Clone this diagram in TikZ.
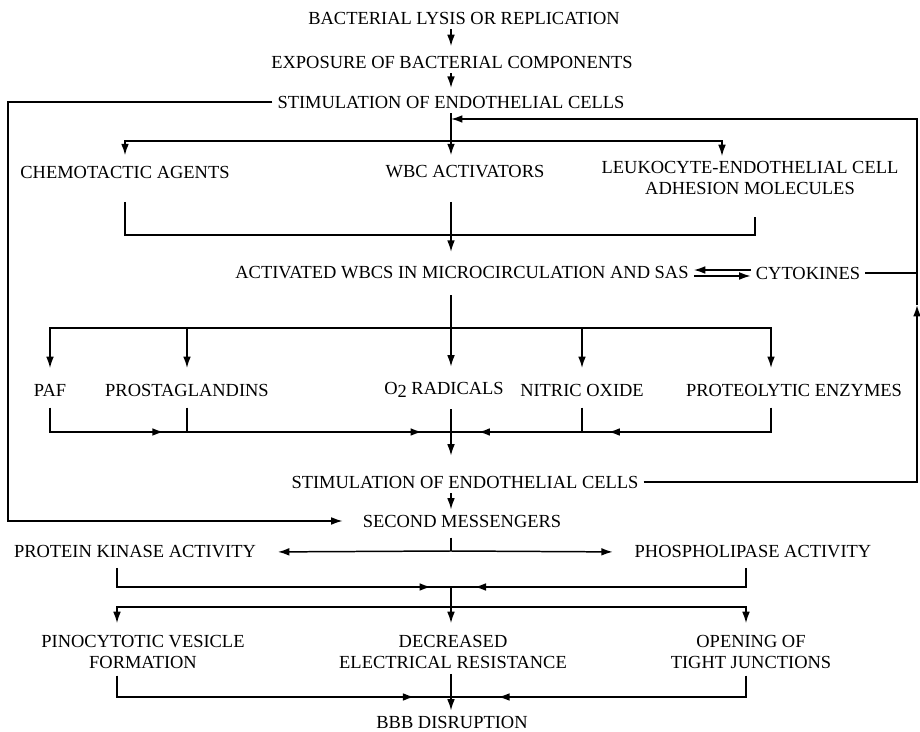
\documentclass[tikz,border=0pt]{standalone}
\usepackage{fontspec}
\setmainfont{Liberation Serif}
\usetikzlibrary{arrows.meta, calc}

\begin{document}
\begin{tikzpicture}[x=0.02cm, y=-0.02cm, line width=0.85pt,
      lbl/.style={font=\fontsize{10.5}{11.8}\selectfont, inner sep=0pt,
                  outer sep=3pt, align=center},
      arr/.style={-{Latex[length=6.5pt,width=4.4pt]}}]
    \useasboundingbox (0,0) rectangle (920,732);
    % text nodes
    \node[lbl] (lysis)  at (464,18)    {BACTERIAL LYSIS OR REPLICATION};
    \node[lbl] (expo)   at (452,62)    {EXPOSURE OF BACTERIAL COMPONENTS};
    \node[lbl] (stimA)  at (451,102)   {STIMULATION OF ENDOTHELIAL CELLS};
    \node[lbl] (chemo)  at (125,172)   {CHEMOTACTIC AGENTS};
    \node[lbl] (wbc)    at (465,172)   {WBC ACTIVATORS};
    \node[lbl] (leuko)  at (750,178)   {LEUKOCYTE-ENDOTHELIAL CELL\\ADHESION MOLECULES};
    \node[lbl] (act)    at (462,273)   {ACTIVATED WBCS IN MICROCIRCULATION AND SAS};
    \node[lbl] (cyto)   at (808,273)   {CYTOKINES};
    \node[lbl] (paf)    at (50,390)    {PAF};
    \node[lbl] (prost)  at (187,390)   {PROSTAGLANDINS};
    \node[lbl] (otwo)   at (444,390)   {O\raisebox{-0.35ex}{2} RADICALS};
    \node[lbl] (nitric) at (582,390)   {NITRIC OXIDE};
    \node[lbl] (proteo) at (794,390)   {PROTEOLYTIC ENZYMES};
    \node[lbl] (stimB)  at (465,482)   {STIMULATION OF ENDOTHELIAL CELLS};
    \node[lbl] (sm)     at (462,521)   {SECOND MESSENGERS};
    \node[lbl] (pk)     at (135,552)   {PROTEIN KINASE ACTIVITY};
    \node[lbl] (pl)     at (753,552)   {PHOSPHOLIPASE ACTIVITY};
    \node[lbl] (pino)   at (143,652)   {PINOCYTOTIC VESICLE\\FORMATION};
    \node[lbl] (dec)    at (453,652)   {DECREASED\\ELECTRICAL RESISTANCE};
    \node[lbl] (tight)  at (751,652)   {OPENING OF\\TIGHT JUNCTIONS};
    \node[lbl] (bbb)    at (452,722)   {BBB DISRUPTION};
    % junctions
    \coordinate (spine) at (451,0);
    \coordinate (lkIn)  at (722,0);
    \coordinate (lkOut) at (755,0);
    \coordinate (ptx)   at (771,0);
    \coordinate (pkx)   at (117,0);
    \coordinate (plx)   at (746,0);
    \coordinate (lcA)   at (8,102);
    \coordinate (rcTop) at (917,119);
    \coordinate (rcArr) at (917,305);
    \coordinate (brA)   at (451,141);
    \coordinate (mgA)   at (451,235);
    \coordinate (brB)   at (451,328);
    \coordinate (mgB)   at (451,432);
    \coordinate (smJ)   at (451,551);
    \coordinate (mgC)   at (451,587);
    \coordinate (brC)   at (451,607);
    \coordinate (mgD)   at (451,697);
    % top chain
    \draw[arr, shorten >=2.5pt] (lysis.south -| spine) -- (expo.north -| spine);
    \draw[arr, shorten >=1.5pt] (expo.south -| spine) -- (stimA.north -| spine);
    \draw[arr, shorten >=3pt] (stimA.south -| spine) -- (wbc.north -| spine);
    \draw[arr] (rcArr) -- (rcTop) -- (spine |- rcTop);
    \draw[arr, shorten >=3pt] (brA) -| (chemo.north);
    \draw[arr] (brA) -| (lkIn |- leuko.north);
    % long loop on the left
    \draw[arr, shorten >=8.5pt] (stimA.west) -- (lcA) |- (sm.west);
    % into activated wbcs
    \draw[shorten <=10.5pt] (chemo.south) |- (mgA);
    \draw[shorten <=10pt] (lkOut |- leuko.south) |- (mgA);
    \draw[arr, shorten <=10.5pt, shorten >=5.5pt] (wbc.south -| spine) -- (act.north -| spine);
    \draw[arr] ([yshift=1.7pt]cyto.west) -- ([yshift=1.7pt]act.east);
    \draw[arr] ([yshift=-1.7pt]act.east) -- ([yshift=-1.7pt]cyto.west);
    \draw (cyto.east) -- (cyto.east -| rcTop);
    % mediators
    \draw[arr, shorten <=6pt, shorten >=6pt] (act.south -| spine) -- (otwo.north -| spine);
    \draw[arr, shorten >=6pt] (brB) -| (paf.north);
    \draw[arr, shorten >=6pt] (brB) -| (ptx |- proteo.north);
    \draw[arr, shorten >=6pt] (prost.north |- brB) -- (prost.north);
    \draw[arr, shorten >=6pt] (nitric.north |- brB) -- (nitric.north);
    \draw[shorten <=3.5pt] (paf.south) |- (mgB);
    \draw[shorten <=3.5pt] (prost.south) -- (prost.south |- mgB);
    \draw[shorten <=3.5pt] (nitric.south) -- (nitric.south |- mgB);
    \draw[shorten <=3.5pt] (ptx |- proteo.south) |- (mgB);
    \draw[arr] (paf.south |- mgB) -- ($(paf.south |- mgB)!0.83!(prost.south |- mgB)$);
    \draw[arr] (prost.south |- mgB) -- ($(prost.south |- mgB)!0.89!(mgB)$);
    \draw[arr] (nitric.south |- mgB) -- ($(nitric.south |- mgB)!0.79!(mgB)$);
    \draw[arr] (ptx |- mgB) -- ($(ptx |- mgB)!0.86!(nitric.south |- mgB)$);
    \draw[arr, shorten <=3.5pt, shorten >=8.5pt] (otwo.south -| spine) -- (stimB.north -| spine);
    \draw[arr] (stimB.east) -| (rcArr);
    % second messengers
    \draw[arr] (stimB.south -| spine) -- (sm.north -| spine);
    \draw[shorten <=3pt] (sm.south -| spine) -- (smJ);
    \draw[arr, shorten >=9.5pt] (smJ) -- (pk.east);
    \draw[arr, shorten >=9.5pt] (smJ) -- (pl.west);
    \draw[shorten <=2.5pt] (pkx |- pk.south) |- (mgC);
    \draw[shorten <=2.5pt] (plx |- pl.south) |- (mgC);
    \draw[arr] (pkx |- mgC) -- ($(pkx |- mgC)!0.94!(mgC)$);
    \draw[arr] (plx |- mgC) -- ($(plx |- mgC)!0.92!(mgC)$);
    \draw (mgC) -- (brC);
    % effects on the barrier
    \draw[arr, shorten >=4pt] (brC) -- (dec.north -| spine);
    \draw[arr, shorten >=4pt] (brC) -| (pkx |- pino.north);
    \draw[arr, shorten >=4pt] (brC) -| (plx |- tight.north);
    \draw[shorten <=1pt] (pkx |- pino.south) |- (mgD);
    \draw[shorten <=1pt] (plx |- tight.south) |- (mgD);
    \draw[arr] (pkx |- mgD) -- ($(pkx |- mgD)!0.89!(mgD)$);
    \draw[arr] (plx |- mgD) -- ($(plx |- mgD)!0.84!(mgD)$);
    \draw[arr] (dec.south -| spine) -- (bbb.north -| spine);
  \end{tikzpicture}
\end{document}
